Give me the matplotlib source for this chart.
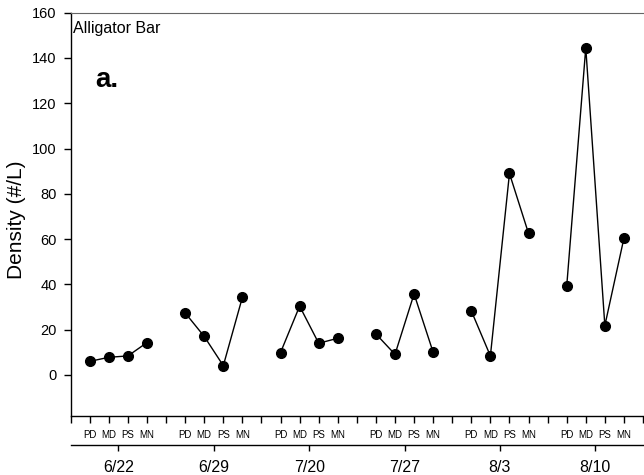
import matplotlib
matplotlib.use("Agg")
import matplotlib.pyplot as plt

plt.rcParams["font.family"] = ["Liberation Sans", "DejaVu Sans"]

# sampling dates and stations within each date
dates = ["6/22", "6/29", "7/20", "7/27", "8/3", "8/10"]
stations = ["PD", "MD", "PS", "MN"]

# density (#/L) per station, one list per date
d_0622 = [6.0, 7.8, 8.4, 14.3]
d_0629 = [27.4, 17.0, 4.1, 34.3]
d_0720 = [9.9, 30.4, 14.0, 16.2]
d_0727 = [18.1, 9.1, 35.8, 10.0]
d_0803 = [28.3, 8.4, 89.0, 62.5]
d_0810 = [39.1, 144.5, 21.8, 60.4]
density = [d_0622, d_0629, d_0720, d_0727, d_0803, d_0810]

slot = len(stations) + 1  # one empty slot separates the groups

fig = plt.figure(figsize=(6.44, 4.75), dpi=100)
ax = fig.add_axes([70.7 / 644, 1 - 415.7 / 475, 572.3 / 644, 403 / 475])

for g, vals in enumerate(density):
    xs = [g * slot + 1 + j for j in range(len(stations))]
    ax.plot(xs, vals, color="black", lw=1.0, marker="o", ms=7,
            mfc="black", mec="black", clip_on=False)

n_slots = slot * len(dates)
ax.set_xlim(0, n_slots)
ax.set_ylim(-18, 160)

# y axis
ax.set_yticks(range(0, 161, 20))
ax.tick_params(axis="y", direction="out", length=5, width=1, pad=5,
               labelsize=10.5)
ax.set_ylabel("Density (#/L)", fontsize=15)
ax.yaxis.set_label_coords(-0.078, 0.485)

# inner x axis: station labels
ticks = list(range(n_slots + 1))
labels = ["" if t % slot == 0 else stations[t % slot - 1] for t in ticks]
ax.set_xticks(ticks)
ax.set_xticklabels(labels)
ax.tick_params(axis="x", direction="out", length=5, width=1, pad=5,
               labelsize=7)

ax.spines["right"].set_visible(False)
ax.spines["top"].set_color("0.4")
ax.spines["top"].set_linewidth(0.8)
for s in ("left", "bottom"):
    ax.spines[s].set_linewidth(1.0)

# outer x axis: dates
ax2 = ax.twiny()
ax2.set_xlim(ax.get_xlim())
ax2.xaxis.set_ticks_position("bottom")
ax2.xaxis.set_label_position("bottom")
ax2.spines["bottom"].set_position(("outward", 21))
ax2.spines["bottom"].set_linewidth(1.0)
for s in ("top", "left", "right"):
    ax2.spines[s].set_visible(False)
ax2.set_xticks([g * slot + slot / 2 for g in range(len(dates))])
ax2.set_xticklabels(dates)
ax2.tick_params(axis="x", direction="out", length=4, width=1, pad=7,
                labelsize=11.5)

ax.text(0.0045, 0.949, "Alligator Bar", transform=ax.transAxes,
        fontsize=11.5, va="baseline", ha="left")
ax.text(0.0425, 0.816, "a.", transform=ax.transAxes, fontsize=20,
        fontweight="bold", va="baseline", ha="left")

fig.savefig("out.png", dpi=100)
